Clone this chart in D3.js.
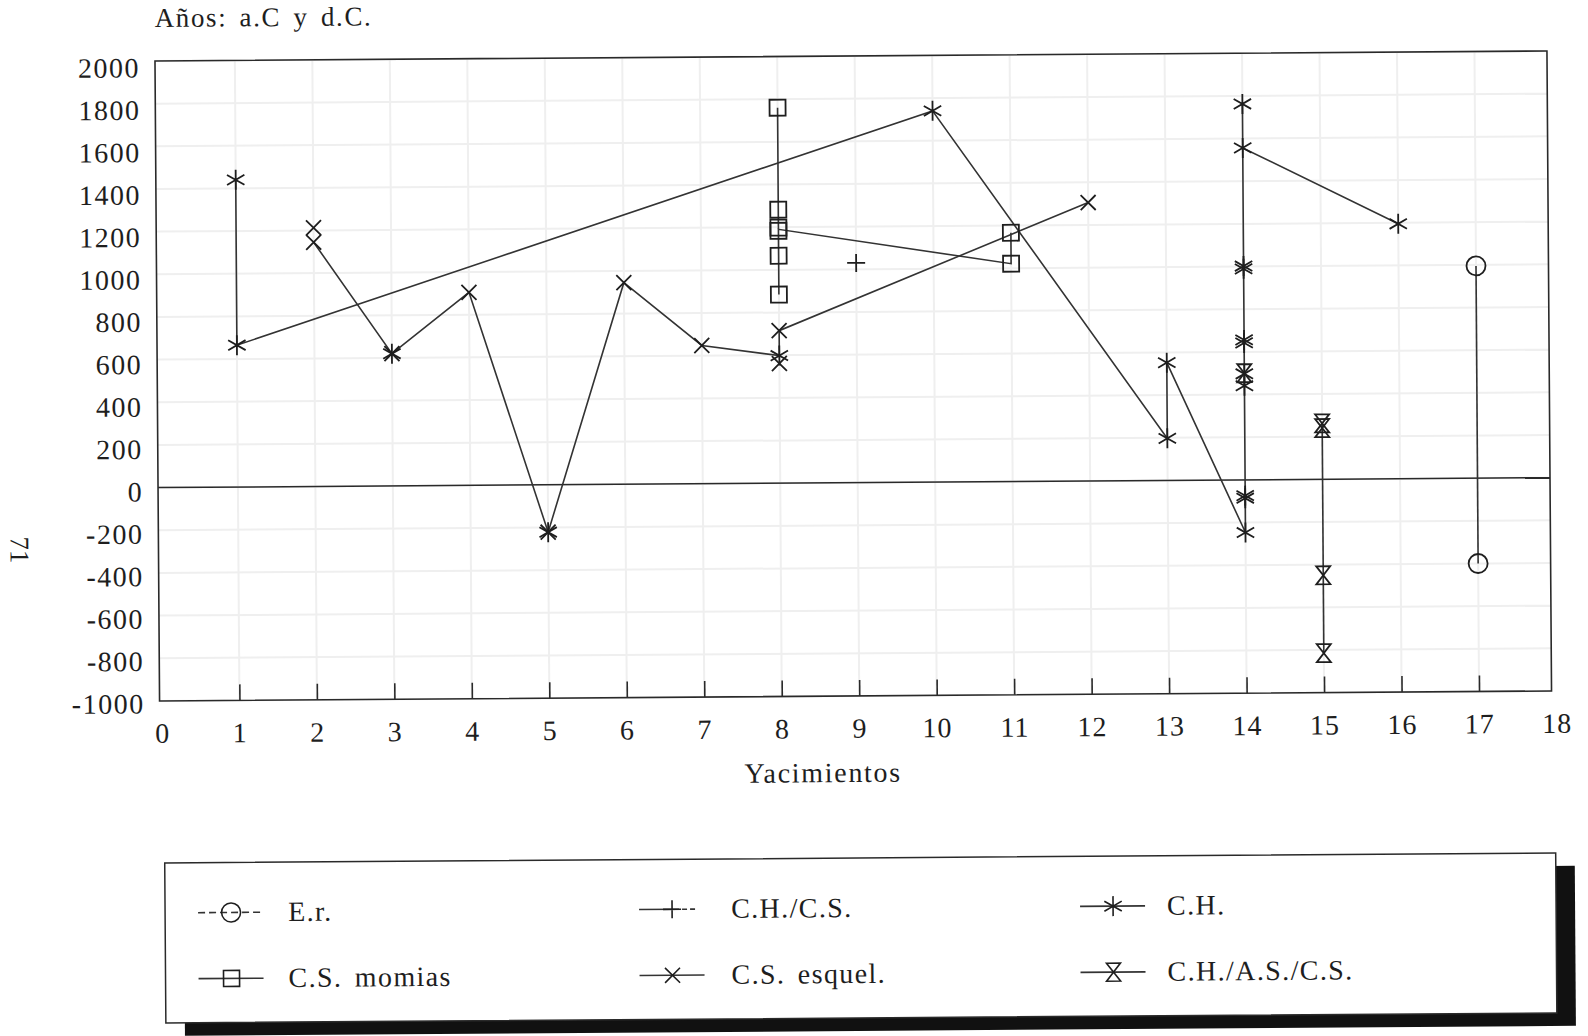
<!DOCTYPE html>
<html>
<head>
<meta charset="utf-8">
<script src="https://cdn.jsdelivr.net/npm/d3@7"></script>
<style>
  body { margin: 0; background: #fff; }
  svg { display: block; }
  text { font-family: "Liberation Serif", "DejaVu Serif", serif; fill: #1e1e1e; }
</style>
</head>
<body>
<svg id="chart" width="1588" height="1036"></svg>
<script>
// data (site number, year)
const sites = d3.range(0, 19)
const yTicks = d3.range(-1000, 2001, 200)

const erPoints = [[17, 995], [17, -400]]
const erLine = [[17, 995], [17, -400]]

const chcsPoints = [[9, 1030]]

const chPoints = [[1, 1440], [1, 665], [3, 620], [5, -222], [8, 598], [10, 1740],
  [13, 552], [13, 197], [14, 1762], [14, 1556], [14, 989], [14, 1002], [14, 642],
  [14, 656], [14, 497], [14, 441], [14, -74], [14, -86], [14, -247], [16, 1195]]
const chLine = [[1, 1440], [1, 665], [10, 1740], [13, 197], [13, 552], [14, -247],
  [14, 1762], [14, 1556], [16, 1195]]

const momiasPoints = [[8, 1760], [8, 1282], [8, 1198], [8, 1183], [8, 1066], [8, 884],
  [11, 1166], [11, 1021]]
const momiasLine = [[8, 1760], [8, 884], [8, 1190], [11, 1021], [11, 1166]]

const esquelPoints = [[2, 1213], [2, 1145], [3, 620], [4, 905], [5, -222], [6, 945],
  [7, 648], [8, 715], [8, 561], [12, 1305]]
const esquelLine = [[2, 1145], [3, 620], [4, 905], [5, -222], [6, 945], [7, 648],
  [8, 598], [8, 715], [12, 1305]]

const chascsPoints = [[15, 262], [15, 240], [15, -450], [15, -815], [14, 500]]
const chascsLine = [[15, 262], [15, -815]]

const legendLabels = ["E.r.", "C.H./C.S.", "C.H.", "C.S. momias", "C.S. esquel.", "C.H./A.S./C.S."]
const legendShapes = ["circle", "plus", "star", "square", "cross", "hourglass"]

const svg = d3.select('#chart')
// the printed page is scanned slightly tilted
const page = svg.append('g').attr('transform', 'rotate(-0.41,850,480)')

const pLeft = 158, pRight = 1550, pTop = 56, pBottom = 696
const x = d3.scaleLinear().domain([0, 18]).range([160.4, 1555])
const y = d3.scaleLinear().domain([-1000, 2000]).range([pBottom, pTop])

// faint grid showing through
page.append('g').selectAll('line')
  .data(yTicks)
  .enter().append('line')
  .attr('x1', pLeft).attr('x2', pRight)
  .attr('y1', d => y(d)).attr('y2', d => y(d))
  .attr('stroke', '#efefef').attr('stroke-width', 2)
page.append('g').selectAll('line')
  .data(sites.filter(d => d > 0 && d < 18))
  .enter().append('line')
  .attr('x1', d => x(d)).attr('x2', d => x(d))
  .attr('y1', pTop).attr('y2', pBottom)
  .attr('stroke', '#efefef').attr('stroke-width', 2)

// frame
page.append('rect')
  .attr('x', pLeft).attr('y', pTop)
  .attr('width', pRight - pLeft).attr('height', pBottom - pTop)
  .attr('fill', 'none').attr('stroke', '#2a2a2a').attr('stroke-width', 1.6)

// zero line
page.append('line')
  .attr('x1', pLeft).attr('x2', pRight)
  .attr('y1', y(0)).attr('y2', y(0))
  .attr('stroke', '#2a2a2a').attr('stroke-width', 1.5)

// x axis: ticks point inward
const xAxis = page.append('g')
  .attr('transform', `translate(0,${pBottom})`)
  .call(d3.axisBottom(x).tickValues(sites).tickFormat(d => String(d))
    .tickSizeInner(-16).tickSizeOuter(0).tickPadding(22))
xAxis.select('.domain').remove()
xAxis.selectAll('.tick line')
  .attr('stroke', '#2a2a2a').attr('stroke-width', 1.6)
  .attr('opacity', d => (d === 0 || d === 18) ? 0 : 1)
xAxis.selectAll('.tick text')
  .style('font-size', '28px').style('letter-spacing', '1px')
  .attr('fill', '#1e1e1e')

// y axis labels only (printed labels sit a little lower near the top)
const yAxis = page.append('g')
  .attr('transform', `translate(${pLeft},0)`)
  .call(d3.axisLeft(y).tickValues(yTicks).tickFormat(d => String(d))
    .tickSize(0).tickPadding(15))
yAxis.select('.domain').remove()
yAxis.selectAll('.tick text')
  .attr('dy', '0.42em')
  .attr('y', d => (d + 1000) / 3000 * 4)
  .style('font-size', '28px').style('letter-spacing', '1.5px')
  .attr('fill', '#1e1e1e')

page.append('text')
  .attr('x', 158).attr('y', 22)
  .style('font-size', '27px').style('letter-spacing', '1.6px').style('word-spacing', '4px')
  .text('Años: a.C y d.C.')

page.append('text')
  .attr('x', 821).attr('y', 782)
  .attr('text-anchor', 'middle')
  .style('font-size', '28px').style('letter-spacing', '1.7px')
  .text('Yacimientos')

page.append('text')
  .attr('transform', 'translate(19,544) rotate(90)')
  .attr('text-anchor', 'middle').attr('dominant-baseline', 'central')
  .style('font-size', '27px')
  .text('71')

// marker shapes
function shape(kind) {
  if (kind === 'star') return 'M0,-10L0,10M-8.7,-5L8.7,5M-8.7,5L8.7,-5'
  if (kind === 'cross') return 'M-7.5,-7.5L7.5,7.5M-7.5,7.5L7.5,-7.5'
  if (kind === 'plus') return 'M-9,0L9,0M0,-9L0,9'
  if (kind === 'square') return 'M-8,-8H8V8H-8Z'
  if (kind === 'hourglass') return 'M-7,-9H7L-7,9H7Z'
  if (kind === 'circle') return 'M-9.5,0A9.5,9.5 0 1,0 9.5,0A9.5,9.5 0 1,0 -9.5,0Z'
}

const line = d3.line().x(d => x(d[0])).y(d => y(d[1]))

const series = [
  { line: erLine, points: erPoints, kind: 'circle' },
  { line: null, points: chcsPoints, kind: 'plus' },
  { line: chLine, points: chPoints, kind: 'star' },
  { line: momiasLine, points: momiasPoints, kind: 'square' },
  { line: esquelLine, points: esquelPoints, kind: 'cross' },
  { line: chascsLine, points: chascsPoints, kind: 'hourglass' }
]

const plot = page.append('g')
for (let s of series) {
  if (s.line) {
    plot.append('path')
      .attr('d', line(s.line))
      .attr('fill', 'none').attr('stroke', '#333').attr('stroke-width', 1.6)
  }
}
for (let s of series) {
  plot.append('g').selectAll('path')
    .data(s.points)
    .enter().append('path')
    .attr('transform', d => `translate(${x(d[0])},${y(d[1])})`)
    .attr('d', shape(s.kind))
    .attr('fill', 'none').attr('stroke', '#1e1e1e').attr('stroke-width', 1.8)
}

// legend box with black drop shadow
const lg = page.append('g')
const lx = 162, ly = 858, lw = 1391, lh = 160
lg.append('rect')
  .attr('x', lx + 19).attr('y', ly + 13).attr('width', lw).attr('height', lh)
  .attr('fill', '#111')
lg.append('rect')
  .attr('x', lx).attr('y', ly).attr('width', lw).attr('height', lh)
  .attr('fill', '#fff').attr('stroke', '#2a2a2a').attr('stroke-width', 1.5)

const colX = [228, 669, 1110]
const textX = [285, 728, 1164]
const rowY = [908, 974]

legendLabels.forEach((label, i) => {
  const cx = colX[i % 3], cy = rowY[Math.floor(i / 3)]
  const item = lg.append('g')
  item.append('line')
    .attr('x1', cx - 33).attr('x2', cx + 32)
    .attr('y1', cy).attr('y2', cy)
    .attr('stroke', '#333').attr('stroke-width', 1.6)
    .attr('stroke-dasharray', i === 0 ? '7,4' : (i === 1 ? '40,3,5,3,5' : null))
  item.append('path')
    .attr('transform', `translate(${cx},${cy})`)
    .attr('d', shape(legendShapes[i]))
    .attr('fill', 'none').attr('stroke', '#1e1e1e').attr('stroke-width', 1.6)
  item.append('text')
    .attr('x', textX[i % 3]).attr('y', cy + 9)
    .style('font-size', '28px').style('letter-spacing', '1.4px').style('word-spacing', '4px')
    .text(label)
})
</script>
</body>
</html>
